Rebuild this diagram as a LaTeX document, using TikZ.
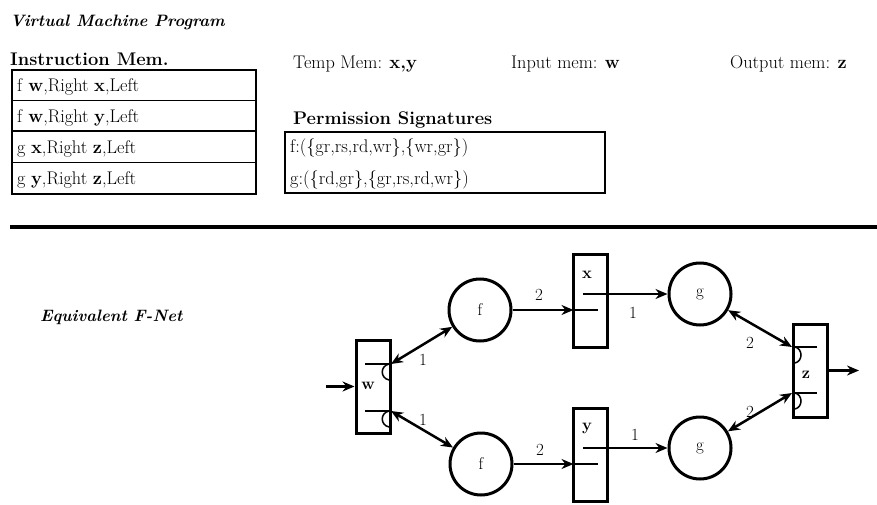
\documentclass[tikz,border=0pt]{standalone}
\usetikzlibrary{arrows.meta}
\begin{document}
\begin{tikzpicture}[x=1pt,y=-1pt,
  every node/.style={inner sep=0pt},
  body/.style={font=\fontsize{18.3}{22}\selectfont, anchor=base west},
  head/.style={font=\fontsize{18.3}{22}\selectfont\bfseries, anchor=base west},
  titletext/.style={font=\fontsize{16.5}{20}\selectfont\bfseries\itshape, anchor=base west},
  netlbl/.style={font=\fontsize{17}{20}\selectfont},
  memlbl/.style={font=\fontsize{16.5}{19}\selectfont\bfseries},
  frame/.style={line width=2.6pt},
  rowrule/.style={line width=1.3pt},
  mem/.style={draw, line width=3pt, minimum width=34pt, minimum height=93pt},
  proc/.style={draw, circle, line width=3pt, minimum size=62pt, font=\fontsize{17}{20}\selectfont},
  conn/.style={line width=2.5pt, -{Stealth[length=12pt,width=10pt]}},
  biconn/.style={line width=2.5pt, {Stealth[length=12pt,width=10pt]}-{Stealth[length=12pt,width=10pt]}},
  portline/.style={line width=1.5pt},
]
\fill[white] (0,0) rectangle (877,505);
\useasboundingbox (0,0) rectangle (877,505);

% ---------- top part ----------
\node[titletext] (vmp) at (10,27) {Virtual Machine Program};
\node[head] (imh) at (10,66) {Instruction Mem.};
\node[body] (tmh) at (293,69) {Temp Mem: \textbf{x,y}};
\node[body] (inh) at (511,69) {Input mem: \textbf{w}};
\node[body] (outh) at (730,69) {Output mem: \textbf{z}};
\node[head] (psh) at (293,125) {Permission Signatures};

% instruction memory table
\draw[frame] (12,70) rectangle (256,194);
\draw[rowrule] (12,100.5) -- (256,100.5);
\draw[rowrule] (12,131) -- (256,131);
\draw[rowrule] (12,162.5) -- (256,162.5);
\node[body] (r1) at (17,92) {f \textbf{w},Right \textbf{x},Left};
\node[body] (r2) at (17,123) {f \textbf{w},Right \textbf{y},Left};
\node[body] (r3) at (17,154) {g \textbf{x},Right \textbf{z},Left};
\node[body] (r4) at (17,185) {g \textbf{y},Right \textbf{z},Left};

% permission signatures box
\draw[frame] (285,132) rectangle (605,193);
\node[body] (p1) at (290,153) {f:(\{gr,rs,rd,wr\},\{wr,gr\})};
\node[body] (p2) at (290,184) {g:(\{rd,gr\},\{gr,rs,rd,wr\})};

% separator
\draw[line width=4pt] (10,227) -- (877,227);

% ---------- F-net ----------
\node[titletext] (efn) at (40,321) {Equivalent F-Net};

\node[mem] (w) at (373,386.5) {};
\node[mem] (xb) at (590.5,301) {};
\node[mem] (yb) at (590.5,455) {};
\node[mem] (zb) at (810,370.5) {};

\node[memlbl] (wl) at (368,386) {w};
\node[memlbl] (xl) at (587,275) {x};
\node[memlbl] (yl) at (587,428) {y};
\node[memlbl] (zl) at (806,375) {z};

\node[proc] (f1) at (480,310) {f};
\node[proc] (f2) at (481,464) {f};
\node[proc] (g1) at (700,294) {g};
\node[proc] (g2) at (700,448) {g};

% ports inside memory boxes
\draw[portline] (365,364) -- (390,364);
\draw[portline] (389,364) .. controls (380,366) and (380,378) .. (389,380);
\draw[portline] (365,411) -- (390,411);
\draw[portline] (389,411) .. controls (380,413) and (380,425) .. (389,427);

\draw[portline] (583,294) -- (607.5,294);
\draw[portline] (573.5,310) -- (598,310);
\draw[portline] (583,448) -- (607.5,448);
\draw[portline] (573.5,464) -- (598,464);

\draw[portline] (793,347) -- (817,347);
\draw[portline] (795,347) .. controls (803,349) and (803,361) .. (795,363);
\draw[portline] (793,393) -- (817,393);
\draw[portline] (795,393) .. controls (803,395) and (803,407) .. (795,409);

% connector end points
\coordinate (inp) at (326,386.5);
\coordinate (outp) at (859,370.5);
\coordinate (wu) at (391,364);
\coordinate (wd) at (391,411);
\coordinate (xi) at (573.5,310);
\coordinate (xo) at (607.5,294);
\coordinate (yi) at (573.5,464);
\coordinate (yo) at (607.5,448);
\coordinate (zu) at (792,347);
\coordinate (zd) at (792,393);

% connectors
\draw[conn] (inp) -- (w);
\draw[biconn] (wu) -- (f1);
\draw[biconn] (wd) -- (f2);
\draw[conn] (f1) -- (xi);
\draw[conn] (f2) -- (yi);
\draw[conn] (xo) -- (g1);
\draw[conn] (yo) -- (g2);
\draw[biconn] (g1) -- (zu);
\draw[biconn] (g2) -- (zd);
\draw[conn] (zb) -- (outp);

% connector labels
\node[netlbl] (la) at (423,360) {1};
\node[netlbl] (lb) at (423,420) {1};
\node[netlbl] (lc) at (539,295) {2};
\node[netlbl] (ld) at (633,313) {1};
\node[netlbl] (le) at (540,450) {2};
\node[netlbl] (lf) at (635,435) {1};
\node[netlbl] (lg) at (750,343) {2};
\node[netlbl] (lh) at (750,412) {2};
\end{tikzpicture}
\end{document}
